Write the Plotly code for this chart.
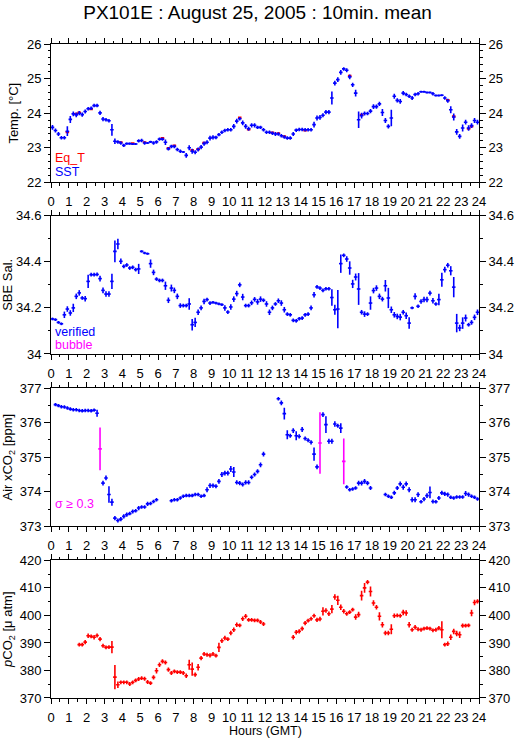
import plotly.graph_objects as go

# ---------------- data (10-minute bins, 144 per day) ----------------
N_BINS = 144
bin_hours = [(k + 0.5) / 6.0 for k in range(N_BINS)]   # bin centres, hours GMT
half_bin = 0.1                                         # drawn half-width of a 10-min bin

hour_ticks = list(range(0, 25))

# SST [deg C]
sst = [23.59, 23.50, 23.40, 23.29, 23.29, 23.48, 23.82, 23.98, 23.95, 24.00,
       23.96, 24.05, 24.13, 24.14, 24.22, 24.22, 24.01, 23.83, 23.81, 23.78,
       23.52, 23.19, 23.17, 23.14, 23.07, 23.12, 23.12, 23.11, 23.11, 23.20,
       23.21, 23.14, 23.14, 23.17, 23.14, 23.17, 23.25, 23.25, 23.16, 22.97,
       23.04, 23.04, 22.95, 22.90, 22.88, 22.78, 23.00, 22.90, 22.87, 22.95,
       23.02, 23.12, 23.16, 23.28, 23.30, 23.30, 23.38, 23.45, 23.50, 23.52,
       23.52, 23.62, 23.77, 23.84, 23.72, 23.62, 23.55, 23.65, 23.65, 23.59,
       23.59, 23.52, 23.45, 23.45, 23.42, 23.40, 23.40, 23.35, 23.31, 23.28,
       23.28, 23.40, 23.51, 23.53, 23.53, 23.52, 23.52, 23.52, 23.67, 23.86,
       23.88, 23.94, 24.03, 24.03, 24.44, 24.87, 24.97, 25.18, 25.28, 25.24,
       25.05, 24.82, 24.58, 23.81, 23.93, 23.99, 23.99, 24.06, 24.19, 24.19,
       24.27, 24.02, 23.79, 23.62, 23.86, 24.49, 24.37, 24.34, 24.58, 24.54,
       24.49, 24.44, 24.54, 24.56, 24.62, 24.62, 24.60, 24.60, 24.56, 24.51,
       24.51, 24.52, 24.44, 24.36, 24.10, 23.89, 23.46, 23.33, 23.57, 23.74,
       23.57, 23.64, 23.79, 23.74]
sst_sd = [0.07, 0.06, 0.06, 0.05, 0.05, 0.14, 0.10, 0.07, 0.07, 0.06,
          0.06, 0.06, 0.05, 0.05, 0.05, 0.05, 0.06, 0.06, 0.05, 0.05,
          0.17, 0.08, 0.05, 0.05, 0.05, 0.03, 0.03, 0.03, 0.03, 0.05,
          0.05, 0.05, 0.03, 0.03, 0.05, 0.05, 0.05, 0.05, 0.08, 0.05,
          0.05, 0.05, 0.05, 0.05, 0.03, 0.07, 0.07, 0.07, 0.06, 0.06,
          0.06, 0.06, 0.06, 0.07, 0.06, 0.05, 0.05, 0.05, 0.05, 0.05,
          0.05, 0.07, 0.07, 0.05, 0.07, 0.07, 0.06, 0.06, 0.06, 0.05,
          0.05, 0.05, 0.05, 0.05, 0.05, 0.06, 0.05, 0.05, 0.05, 0.05,
          0.05, 0.06, 0.05, 0.05, 0.05, 0.05, 0.05, 0.05, 0.08, 0.07,
          0.07, 0.06, 0.06, 0.06, 0.19, 0.07, 0.07, 0.07, 0.05, 0.06,
          0.07, 0.06, 0.10, 0.24, 0.08, 0.06, 0.05, 0.06, 0.07, 0.06,
          0.06, 0.10, 0.07, 0.06, 0.24, 0.07, 0.06, 0.07, 0.06, 0.05,
          0.05, 0.06, 0.05, 0.05, 0.03, 0.03, 0.03, 0.03, 0.05, 0.03,
          0.03, 0.03, 0.05, 0.06, 0.10, 0.10, 0.08, 0.07, 0.10, 0.07,
          0.08, 0.07, 0.07, 0.07]

# Equilibrator temperature (bins where it departs visibly from SST)
eq_t_points = {5: 23.45, 8: 23.98, 9: 24.02, 13: 24.12, 23: 23.16, 27: 23.13,
               31: 23.16, 37: 23.28, 39: 22.99, 41: 23.06, 47: 22.93, 49: 22.96,
               51: 23.14, 63: 23.87, 66: 23.53, 74: 23.44, 76: 23.42, 78: 23.33,
               85: 23.50, 100: 25.08, 104: 23.95, 133: 24.38, 135: 23.91,
               140: 23.55, 141: 23.62}

# SBE salinity
sal = [34.152, 34.149, 34.137, 34.131, 34.170, 34.195, 34.178, 34.200, 34.250, 34.265,
       34.243, 34.240, 34.315, 34.344, 34.344, 34.345, 34.327, 34.276, 34.260, 34.260,
       34.315, 34.445, 34.477, 34.402, 34.380, 34.386, 34.373, 34.376, 34.366, 34.369,
       34.445, 34.438, 34.435, 34.392, 34.354, 34.325, 34.319, 34.319, 34.296, 34.233,
       34.286, 34.276, 34.250, 34.210, 34.210, 34.210, 34.217, 34.127, 34.137, 34.181,
       34.200, 34.228, 34.236, 34.221, 34.224, 34.221, 34.217, 34.214, 34.200, 34.182,
       34.204, 34.238, 34.262, 34.300, 34.247, 34.210, 34.210, 34.222, 34.237, 34.226,
       34.238, 34.233, 34.217, 34.181, 34.200, 34.217, 34.231, 34.221, 34.192, 34.173,
       34.170, 34.146, 34.144, 34.153, 34.156, 34.170, 34.173, 34.200, 34.257, 34.291,
       34.286, 34.276, 34.283, 34.283, 34.245, 34.192, 34.195, 34.392, 34.428, 34.412,
       34.373, 34.304, 34.334, 34.282, 34.181, 34.173, 34.173, 34.221, 34.275, 34.286,
       34.250, 34.238, 34.296, 34.243, 34.192, 34.170, 34.163, 34.160, 34.181, 34.166,
       34.134, 34.200, 34.250, 34.207, 34.228, 34.236, 34.236, 34.264, 34.231, 34.217,
       34.236, 34.322, 34.366, 34.385, 34.361, 34.290, 34.134, 34.113, 34.134, 34.156,
       34.127, 34.137, 34.159, 34.181]
sal_sd = [0.006, 0.006, 0.006, 0.006, 0.014, 0.012, 0.012, 0.018, 0.012, 0.012,
          0.008, 0.012, 0.029, 0.008, 0.008, 0.008, 0.012, 0.012, 0.012, 0.012,
          0.033, 0.047, 0.023, 0.012, 0.008, 0.008, 0.008, 0.008, 0.008, 0.022,
          0.005, 0.005, 0.005, 0.018, 0.012, 0.008, 0.008, 0.008, 0.018, 0.012,
          0.015, 0.012, 0.012, 0.010, 0.008, 0.008, 0.025, 0.025, 0.020, 0.012,
          0.010, 0.012, 0.008, 0.008, 0.006, 0.006, 0.006, 0.006, 0.012, 0.008,
          0.012, 0.012, 0.012, 0.010, 0.014, 0.008, 0.008, 0.010, 0.010, 0.012,
          0.012, 0.008, 0.012, 0.012, 0.010, 0.008, 0.010, 0.012, 0.012, 0.008,
          0.008, 0.008, 0.008, 0.008, 0.008, 0.008, 0.008, 0.010, 0.012, 0.008,
          0.008, 0.008, 0.008, 0.008, 0.036, 0.022, 0.083, 0.040, 0.008, 0.012,
          0.029, 0.018, 0.015, 0.069, 0.010, 0.012, 0.008, 0.029, 0.012, 0.012,
          0.012, 0.010, 0.025, 0.044, 0.014, 0.012, 0.012, 0.014, 0.010, 0.014,
          0.025, 0.006, 0.014, 0.008, 0.010, 0.012, 0.012, 0.010, 0.012, 0.008,
          0.025, 0.030, 0.012, 0.010, 0.020, 0.044, 0.040, 0.014, 0.025, 0.015,
          0.008, 0.010, 0.012, 0.012]

# Atmospheric xCO2 [ppm]
xco2 = [None, 376.52, 376.49, 376.46, 376.45, 376.42, 376.39, 376.37, 376.37, 376.35,
        376.34, 376.35, 376.35, 376.34, 376.36, 376.27, 375.24, 374.25, 374.40, 373.92,
        373.70, 373.24, 373.17, 373.21, 373.29, 373.34, 373.37, 373.43, 373.45, 373.53,
        373.56, 373.56, 373.65, 373.66, 373.72, 373.77, None, None, None, None,
        373.74, 373.77, 373.77, 373.82, 373.87, 373.89, 373.89, 373.89, 373.92, 373.92,
        373.87, 373.89, 374.06, 374.18, 374.18, 374.16, 374.30, 374.50, 374.54, 374.54,
        374.66, 374.57, 374.27, 374.25, 374.21, 374.27, 374.27, 374.42, 374.50, 374.59,
        374.78, 375.09, None, None, None, None, 376.69, 376.57, 376.26, 375.65,
        375.62, 375.77, 375.62, 375.60, 375.80, 375.54, 375.49, 375.43, 375.09, 374.72,
        375.41, 376.23, 375.94, 375.46, 375.46, 375.96, 375.91, 375.84, 374.88, 374.14,
        374.06, 374.08, 374.11, 374.25, 374.25, 374.30, 374.25, 374.11, None, None,
        None, None, 373.92, 373.87, 373.84, 373.97, 374.11, 374.23, 374.13, 374.23,
        374.06, 373.77, 373.77, 373.92, 373.71, 373.79, 373.89, 373.98, 373.72, 373.71,
        373.82, 373.97, 373.94, 373.92, 373.84, 373.82, 373.85, 373.85, 373.85, 373.95,
        373.92, 373.87, 373.84, 373.79]
xco2_sd = [None, 0.05, 0.05, 0.05, 0.05, 0.05, 0.05, 0.05, 0.05, 0.05,
           0.05, 0.05, 0.05, 0.05, 0.05, 0.10, 0.62, 0.07, 0.07, 0.24,
           0.10, 0.06, 0.06, 0.06, 0.06, 0.06, 0.05, 0.06, 0.05, 0.06,
           0.05, 0.05, 0.06, 0.05, 0.05, 0.05, None, None, None, None,
           0.05, 0.05, 0.05, 0.05, 0.05, 0.05, 0.05, 0.05, 0.05, 0.05,
           0.05, 0.05, 0.07, 0.07, 0.06, 0.06, 0.07, 0.07, 0.07, 0.07,
           0.085, 0.145, 0.06, 0.06, 0.06, 0.06, 0.06, 0.06, 0.06, 0.06,
           0.07, 0.07, None, None, None, None, 0.05, 0.07, 0.17, 0.13,
           0.06, 0.07, 0.13, 0.06, 0.07, 0.06, 0.06, 0.06, 0.19, 0.07,
           0.89, 0.07, 0.24, 0.07, 0.07, 0.08, 0.06, 0.14, 0.66, 0.05,
           0.05, 0.05, 0.05, 0.07, 0.07, 0.07, 0.06, 0.06, None, None,
           None, None, 0.05, 0.05, 0.05, 0.06, 0.06, 0.07, 0.07, 0.07,
           0.07, 0.07, 0.07, 0.07, 0.05, 0.06, 0.07, 0.17, 0.06, 0.05,
           0.06, 0.06, 0.06, 0.06, 0.05, 0.05, 0.05, 0.05, 0.05, 0.07,
           0.06, 0.05, 0.05, 0.05]
sigma_limit = 0.3

# pCO2 [uatm]
pco2 = [None, None, None, None, None, None, None, None, None, 389.4,
        389.4, 390.3, 392.6, 392.4, 392.1, 392.7, 391.4, 389.0, 388.4, 388.5,
        388.5, 377.6, 374.8, 375.7, 375.7, 375.7, 375.1, 375.7, 376.4, 376.9,
        377.2, 377.0, 375.8, 375.4, 377.5, 379.9, 382.1, 383.3, 382.9, 380.3,
        379.1, 379.7, 379.4, 379.4, 379.1, 378.1, 382.1, 380.5, 378.5, 381.2,
        384.5, 386.0, 385.7, 385.5, 386.0, 385.4, 388.4, 390.8, 391.8, 391.4,
        393.6, 394.8, 396.6, 396.4, 398.8, 399.7, 398.4, 398.4, 398.2, 398.2,
        397.6, 396.9, None, None, None, None, None, None, None, None,
        None, 392.1, 393.9, 394.2, 395.2, 397.2, 398.1, 398.8, 399.9, 398.4,
        398.7, 401.5, 401.8, 400.6, 402.3, 406.7, 405.5, 403.0, 401.5, 400.6,
        401.2, 402.1, 399.4, 400.3, 407.2, 410.0, 412.1, 408.7, 404.5, 403.0,
        399.7, 396.6, 393.6, 393.6, 395.0, 399.9, 400.0, 399.9, 401.1, 400.9,
        396.6, 394.8, 395.7, 395.0, 394.8, 395.2, 395.4, 395.2, 394.6, 394.8,
        395.4, 394.8, 389.4, 389.7, 392.1, 394.2, 393.4, 393.0, 396.3, 396.3,
        396.4, 400.9, 404.7, 405.1]
pco2_sd = [None, None, None, None, None, None, None, None, None, 0.7,
           0.7, 0.8, 0.8, 0.7, 0.8, 0.7, 0.8, 0.7, 0.7, 0.7,
           2.2, 4.4, 1.2, 0.7, 0.7, 0.7, 0.7, 0.7, 0.7, 0.7,
           0.7, 0.7, 0.7, 0.7, 0.8, 1.0, 0.8, 0.8, 0.7, 0.8,
           0.7, 0.7, 0.7, 0.7, 0.7, 0.8, 1.8, 2.4, 0.8, 1.2,
           0.8, 0.7, 0.7, 0.8, 0.7, 0.7, 1.7, 0.8, 0.8, 0.7,
           0.8, 0.8, 0.8, 0.7, 0.8, 0.8, 0.7, 0.7, 0.7, 0.7,
           0.7, 0.7, None, None, None, None, None, None, None, None,
           None, 0.8, 0.8, 0.8, 0.8, 0.8, 0.7, 0.7, 0.7, 0.8,
           0.8, 1.5, 0.8, 0.8, 1.5, 1.0, 1.7, 1.0, 0.8, 0.7,
           0.7, 0.7, 1.0, 1.0, 1.8, 1.8, 0.8, 1.8, 1.0, 0.8,
           1.5, 1.0, 0.8, 0.8, 1.8, 0.8, 0.7, 0.7, 1.0, 1.0,
           1.0, 0.7, 0.8, 0.7, 0.7, 0.7, 0.7, 0.7, 0.7, 0.7,
           0.8, 3.1, 0.7, 0.8, 1.0, 1.0, 1.0, 1.2, 0.8, 0.7,
           0.7, 1.2, 1.0, 0.8]

for arr in (sst, sst_sd, sal, sal_sd, xco2, xco2_sd, pco2, pco2_sd):
    assert len(arr) == N_BINS

eq_t = [eq_t_points.get(k) for k in range(N_BINS)]

# ---------------- styling ----------------
FONT = "Liberation Sans"
BLUE = "#0000FF"
RED = "#FF0000"
MAG = "#FF00FF"
LW = 1.6

fig = go.Figure()


def add_cross(values, sds, color, xa, ya, show_vertical=True, lw=LW):
    fig.add_trace(go.Scatter(
        x=bin_hours, y=values, xaxis=xa, yaxis=ya, mode="markers",
        marker=dict(size=0, color=color, opacity=0),
        error_x=dict(type="constant", value=half_bin, width=0,
                     thickness=lw, color=color),
        error_y=dict(type="data", array=[s if s is not None else 0 for s in sds],
                     width=0, thickness=lw, color=color, visible=show_vertical),
        showlegend=False, hoverinfo="skip"))


# Panel 1: temperatures
add_cross(eq_t, [0] * N_BINS, RED, "x", "y", show_vertical=False, lw=2.2)
add_cross(sst, sst_sd, BLUE, "x", "y")
# Panel 2: salinity
add_cross(sal, sal_sd, BLUE, "x2", "y2")
# Panel 3: xCO2, split by sigma threshold
xco2_ok = [v if (s is not None and s < sigma_limit) else None for v, s in zip(xco2, xco2_sd)]
xco2_hi = [v if (s is not None and s >= sigma_limit) else None for v, s in zip(xco2, xco2_sd)]
add_cross(xco2_ok, xco2_sd, BLUE, "x3", "y3")
add_cross(xco2_hi, xco2_sd, MAG, "x3", "y3")
# Panel 4: pCO2
add_cross(pco2, pco2_sd, RED, "x4", "y4")

# empty traces so that the right-hand axes are drawn
for i in range(4):
    fig.add_trace(go.Scatter(x=[None], y=[None], xaxis="x" if i == 0 else f"x{i+1}",
                             yaxis=f"y{i+5}", mode="markers", showlegend=False,
                             hoverinfo="skip"))

domains = [[0.7884, 1.0], [0.526, 0.7375], [0.2624, 0.474], [0.0, 0.2104]]
yranges = [[22, 26], [34, 34.6], [373, 377], [370, 420]]
ydticks = [1, 0.2, 1, 10]
yminor = [0.2, 0.1, 0.5, 5]
ytitles = ["Temp. [°C]", "SBE Sal.", "Air xCO<sub>2</sub> [ppm]",
           "<i>p</i>CO<sub>2</sub> [\u03bc atm]"]
ystandoff = [5, 1, 5, 4]

tickfont = dict(family=FONT, size=13, color="black")
layout = dict(
    width=515, height=739,
    margin=dict(l=51, r=36, t=44, b=41, autoexpand=False),
    paper_bgcolor="white", plot_bgcolor="white",
    font=dict(family=FONT, size=12, color="black"),
    title=dict(text="PX101E : August 25, 2005 : 10min. mean",
               x=0.5, xanchor="center", y=1 - 12 / 739, yanchor="middle",
               font=dict(family=FONT, size=19, color="black")),
    showlegend=False,
)

for i in range(4):
    xname = "xaxis" if i == 0 else f"xaxis{i+1}"
    yname = "yaxis" if i == 0 else f"yaxis{i+1}"
    yid = "y" if i == 0 else f"y{i+1}"
    xid = "x" if i == 0 else f"x{i+1}"
    layout[xname] = dict(
        domain=[0, 1], anchor=yid, range=[0, 24], tickmode="array",
        tickvals=hour_ticks, ticks="outside", ticklen=5, tickwidth=1,
        tickcolor="black", showline=True, linecolor="black", linewidth=1,
        mirror="ticks", showgrid=False, zeroline=False, tickfont=tickfont,
        ticklabelstandoff=2, automargin=False,
        minor=dict(dtick=0.5, tick0=0, ticks="outside", ticklen=2.5,
                   tickcolor="black", showgrid=False),
    )
    common_y = dict(
        domain=domains[i], range=yranges[i], dtick=ydticks[i], tick0=yranges[i][0],
        ticks="outside", ticklen=6, tickwidth=1, tickcolor="black",
        showline=True, linecolor="black", linewidth=1, showgrid=False,
        zeroline=False, tickfont=tickfont, automargin=False,
        minor=dict(dtick=yminor[i], tick0=yranges[i][0], ticks="outside",
                   ticklen=2.5, tickcolor="black", showgrid=False),
    )
    layout[yname] = dict(common_y, anchor=xid, side="left",
                         title=dict(text=ytitles[i], standoff=ystandoff[i],
                                    font=dict(family=FONT, size=13, color="black")))
    layout[f"yaxis{i+5}"] = dict(common_y, anchor=xid, side="right", overlaying=yid)

fig.update_layout(**layout)

ann = [
    dict(text="Eq_T", x=0.005, y=0.178, xref="x domain", yref="y domain", color=RED),
    dict(text="SST", x=0.005, y=0.077, xref="x domain", yref="y domain", color=BLUE),
    dict(text="verified", x=0.005, y=0.161, xref="x2 domain", yref="y2 domain", color=BLUE),
    dict(text="bubble", x=0.005, y=0.067, xref="x2 domain", yref="y2 domain", color=MAG),
    dict(text="\u03c3 \u2265 0.3", x=0.005, y=0.164, xref="x3 domain", yref="y3 domain", color=MAG),
]
for a in ann:
    fig.add_annotation(text=a["text"], x=a["x"], y=a["y"], xref=a["xref"], yref=a["yref"],
                       xanchor="left", yanchor="middle", showarrow=False,
                       font=dict(family=FONT, size=12.5, color=a["color"]))

fig.add_annotation(text="Hours (GMT)", x=0.5, y=-(731 - 698) / 654, xref="paper",
                   yref="paper", xanchor="center", yanchor="middle", showarrow=False,
                   font=dict(family=FONT, size=12.5, color="black"))

fig.write_html("out.html",
               config={"displayModeBar": False},
               post_script="document.body.style.margin='0';"
                           "document.body.style.overflow='hidden';")
